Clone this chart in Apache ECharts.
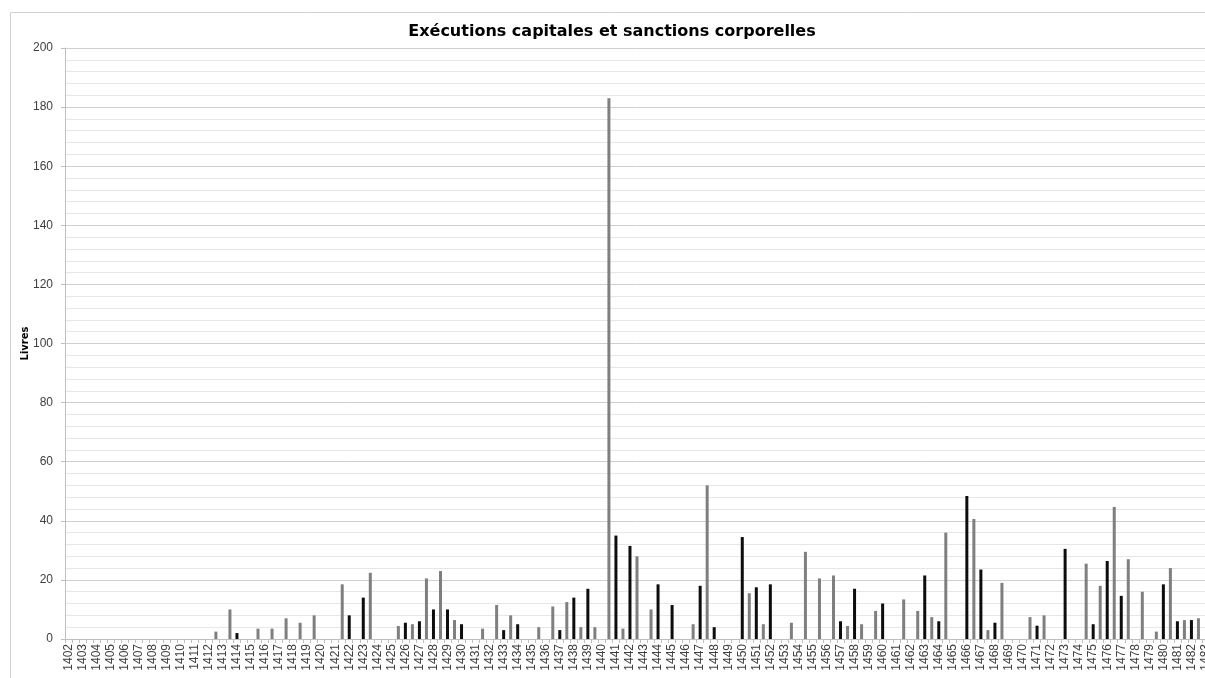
<!DOCTYPE html>
<html>
<head>
<meta charset="utf-8">
<script src="https://cdn.jsdelivr.net/npm/echarts@6/dist/echarts.min.js"></script>
<style>
html,body{margin:0;padding:0;background:#fff;overflow:hidden;}
#c{width:1205px;height:678px;}
</style>
</head>
<body>
<div id="c"></div>
<script>
const years = [
  1402,1403,1404,1405,1406,1407,1408,1409,1410,1411,
  1412,1413,1414,1415,1416,1417,1418,1419,1420,1421,
  1422,1423,1424,1425,1426,1427,1428,1429,1430,1431,
  1432,1433,1434,1435,1436,1437,1438,1439,1440,1441,
  1442,1443,1444,1445,1446,1447,1448,1449,1450,1451,
  1452,1453,1454,1455,1456,1457,1458,1459,1460,1461,
  1462,1463,1464,1465,1466,1467,1468,1469,1470,1471,
  1472,1473,1474,1475,1476,1477,1478,1479,1480,1481,
  1482,1483
];
// black bars (at the year label)
const blackValues = [
  0,0,0,0,0,0,0,0,0,0,
  0,0,2,0,0,0,0,0,0,0,
  8,14,0,0,5.5,6,10,10,5,0,
  0,3,5,0,0,3,14,17,0,35,
  31.5,0,18.5,11.5,0,18,4,0,34.5,17.5,
  18.5,0,0,0,0,6,17,0,12,0,
  0,21.5,6,0,48.4,23.5,5.5,0,0,4.5,
  0,30.5,0,5,26.4,14.6,0,0,18.5,6,
  6.4,0
];
// grey bars (half step after the year label)
const greyValues = [
  0,0,0,0,0,0,0,0,0,0,
  2.5,10,0,3.5,3.5,7,5.5,8,0,18.5,
  0,22.4,0,4.4,5,20.5,23,6.4,0,3.5,
  11.5,8,0,4,11,12.5,4,4,183,3.5,
  28,10,0,0,5,52,0,0,15.5,5,
  0,5.5,29.5,20.5,21.5,4.4,5,9.5,0,13.4,
  9.5,7.4,36,0,40.6,3,19,0,7.4,8,
  0,0,25.5,18,44.7,27,16,2.5,24,6.4,
  7,0
];
const yTicks = [0,20,40,60,80,100,120,140,160,180,200];

const categories = [];
const blackData = [];
const greyData = [];
years.forEach((y, i) => {
  categories.push(String(y));
  blackData.push(blackValues[i] ? blackValues[i] : null);
  greyData.push(null);
  categories.push('');
  blackData.push(null);
  greyData.push(greyValues[i] ? greyValues[i] : null);
});

const chart = echarts.init(document.getElementById('c'));
chart.setOption({
  animation: false,
  backgroundColor: '#ffffff',
  title: {
    text: 'Exécutions capitales et sanctions corporelles',
    left: 607, top: 19, textAlign: 'center',
    textStyle: {fontFamily: 'DejaVu Sans', fontWeight: 'bold', fontSize: 16, color: '#000'}
  },
  graphic: [{
    type: 'rect', shape: {x: 10.5, y: 12.5, width: 1300, height: 800},
    style: {fill: 'none', stroke: '#d0d0d0', lineWidth: 1}, silent: true
  }],
  grid: {left: 65, width: 1151, top: 48, height: 591, containLabel: false, outerBoundsMode: 'none'},
  xAxis: {
    type: 'category',
    data: categories,
    boundaryGap: true,
    axisLine: {lineStyle: {color: '#bfbfbf', width: 1}},
    axisTick: {show: true, interval: 0, length: 4, lineStyle: {color: '#bfbfbf'}},
    axisLabel: {interval: 0, rotate: 90, fontFamily: 'Liberation Sans', fontSize: 12, color: '#404040', margin: 5},
    splitLine: {show: false}
  },
  yAxis: {
    type: 'value',
    min: yTicks[0], max: yTicks[yTicks.length - 1], interval: 20,
    name: 'Livres', nameLocation: 'middle', nameGap: 35, nameRotate: 90, nameMoveOverlap: false,
    nameTextStyle: {fontFamily: 'DejaVu Sans', fontWeight: 'bold', fontSize: 10, color: '#000'},
    axisLine: {show: true, lineStyle: {color: '#bfbfbf'}},
    axisTick: {show: true, length: 4, lineStyle: {color: '#bfbfbf'}},
    axisLabel: {fontFamily: 'Liberation Sans', fontSize: 12, color: '#404040', margin: 12},
    splitLine: {show: true, lineStyle: {color: '#cfcfcf', width: 1}},
    minorTick: {show: false, splitNumber: 5},
    minorSplitLine: {show: true, lineStyle: {color: '#e6e6e6', width: 1}}
  },
  series: [
    {type: 'bar', name: 'noir', data: blackData, barWidth: 3, barGap: '-100%',
     itemStyle: {color: '#0d0d0d'}},
    {type: 'bar', name: 'gris', data: greyData, barWidth: 3, barGap: '-100%',
     itemStyle: {color: '#7f7f7f'}}
  ]
});
</script>
</body>
</html>
